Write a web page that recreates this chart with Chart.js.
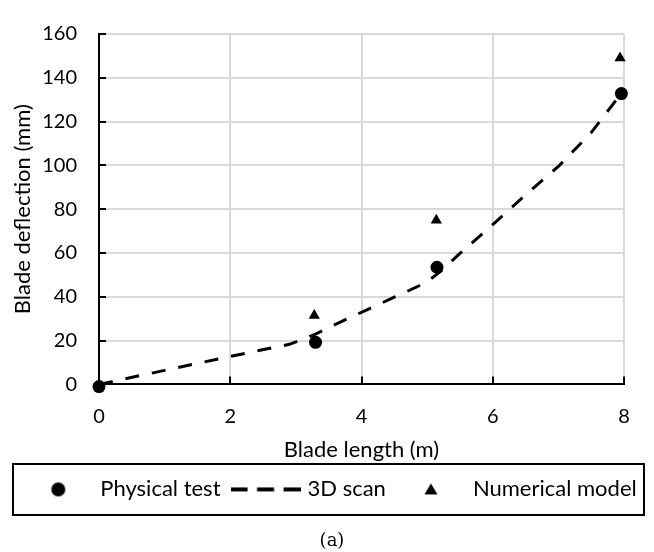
<!DOCTYPE html>
<html>
<head>
<meta charset="utf-8">
<script src="https://cdn.jsdelivr.net/npm/chart.js@4.4.0/dist/chart.umd.min.js"></script>
<style>
  html, body { margin: 0; padding: 0; background: #fff; }
</style>
</head>
<body>
<canvas id="myChart" width="654" height="552"></canvas>
<script>
// valores
const physicalX = [0, 3.3, 5.15, 7.96];
const physicalY = [-1, 19.2, 53.5, 132.8];

const scanX = [0, 1, 2, 2.9, 3.1, 3.3, 3.7, 4.1, 4.5, 4.85, 5.05, 5.2, 5.5, 6, 6.5, 7, 7.5, 7.95];
const scanY = [0, 6.4, 12.8, 18.3, 20.5, 23, 28.8, 34.3, 39.8, 44.6, 48, 51.5, 59.8, 73, 86.5, 99.5, 115, 132.5];

const numericalX = [3.28, 5.14, 7.94];
const numericalY = [31.5, 75, 149];

const xTicks = [0, 2, 4, 6, 8];
const yTicks = [0, 20, 40, 60, 80, 100, 120, 140, 160];

const toPoints = (xs, ys) => xs.map((x, i) => ({ x: x, y: ys[i] }));

// iconos de la leyenda
function legendIcon(kind) {
  const c = document.createElement('canvas');
  c.width = 70; c.height = 16;
  const g = c.getContext('2d');
  g.fillStyle = '#000';
  g.strokeStyle = '#000';
  if (kind === 'circle') {
    g.beginPath(); g.arc(35, 8, 7, 0, Math.PI * 2); g.fill();
  } else if (kind === 'dash') {
    g.lineWidth = 4;
    g.setLineDash([17, 9.5]);
    g.beginPath(); g.moveTo(0, 8); g.lineTo(70, 8); g.stroke();
  } else {
    g.beginPath(); g.moveTo(35, 2); g.lineTo(41.5, 13); g.lineTo(28.5, 13); g.closePath(); g.fill();
  }
  return c;
}
const icons = [legendIcon('circle'), legendIcon('dash'), legendIcon('triangle')];

Chart.defaults.font.family = 'Lato';
Chart.defaults.color = '#000';

// marcas de division hacia dentro + marco de la leyenda
const extras = {
  id: 'extras',
  afterDraw(chart) {
    const { ctx, scales: { x, y } } = chart;
    ctx.save();
    ctx.strokeStyle = '#000';
    ctx.lineWidth = 2;
    ctx.beginPath();
    y.ticks.forEach(t => {
      const py = Math.round(y.getPixelForValue(t.value));
      ctx.moveTo(x.left, py); ctx.lineTo(x.left + 7, py);
    });
    x.ticks.forEach(t => {
      const px = Math.round(x.getPixelForValue(t.value));
      ctx.moveTo(px, y.bottom); ctx.lineTo(px, y.bottom - 8);
    });
    ctx.stroke();

    const hb = chart.legend.legendHitBoxes[0];
    const cy = hb.top + hb.height / 2;
    ctx.strokeRect(13, Math.round(cy - 25.5), 631, 51);
    ctx.restore();
  }
};

const ctx = document.getElementById('myChart').getContext('2d');
const chart = new Chart(ctx, {
  type: 'scatter',
  data: {
    datasets: [{
      label: 'Physical test',
      data: toPoints(physicalX, physicalY),
      pointStyle: 'circle',
      pointRadius: 6.5,
      pointHoverRadius: 6.5,
      backgroundColor: '#000',
      borderColor: '#000',
      borderWidth: 0,
      clip: false
    }, {
      label: '3D scan',
      data: toPoints(scanX, scanY),
      showLine: true,
      pointRadius: 0,
      borderColor: '#000',
      borderWidth: 3,
      borderDash: [14, 13],
      tension: 0,
      clip: false
    }, {
      label: 'Numerical model',
      data: toPoints(numericalX, numericalY),
      pointStyle: 'triangle',
      pointRadius: 6.5,
      pointHoverRadius: 6.5,
      backgroundColor: '#000',
      borderColor: '#000',
      borderWidth: 0,
      clip: false
    }]
  },
  options: {
    responsive: false,
    animation: false,
    layout: { padding: { left: 10, right: 0, top: 21, bottom: 0 } },
    scales: {
      x: {
        type: 'linear',
        min: 0, max: 8,
        afterBuildTicks: s => { s.ticks = xTicks.map(v => ({ value: v })); },
        afterFit: s => { s.height = 80; },
        grid: { color: '#d9d9d9', lineWidth: 2, drawTicks: false },
        border: { color: '#000', width: 2, z: 1 },
        ticks: { padding: 20, font: { size: 20 } },
        title: { display: true, text: 'Blade length (m)', font: { size: 22 }, padding: { top: 0, bottom: 1 } }
      },
      y: {
        type: 'linear',
        min: 0, max: 160,
        afterBuildTicks: s => { s.ticks = yTicks.map(v => ({ value: v })); },
        afterFit: s => { s.width = 89; },
        grid: { color: '#d9d9d9', lineWidth: 2, drawTicks: false },
        border: { color: '#000', width: 2, z: 1 },
        ticks: { padding: 22, font: { size: 20 } },
        title: { display: true, text: 'Blade deflection (mm)', font: { size: 22 }, padding: { top: 0, bottom: 0 } }
      },
      margen: {
        type: 'linear',
        position: 'right',
        afterFit: s => { s.width = 30; },
        grid: { display: false },
        border: { display: false },
        ticks: { display: false }
      }
    },
    plugins: {
      tooltip: { enabled: false },
      legend: {
        position: 'bottom',
        labels: {
          usePointStyle: true,
          pointStyleWidth: 62,
          padding: 14,
          color: '#000',
          font: { size: 22 },
          generateLabels: chart => chart.data.datasets.map((ds, i) => ({
            text: ds.label,
            pointStyle: icons[i],
            fillStyle: '#000',
            strokeStyle: '#000',
            lineWidth: 0,
            hidden: false,
            datasetIndex: i,
            fontColor: '#000'
          }))
        }
      },
      title: {
        display: true,
        text: '(a)',
        position: 'bottom',
        color: '#000',
        font: { family: 'DejaVu Serif', size: 18, weight: 'normal' },
        padding: { top: 20, bottom: 0 }
      }
    }
  },
  plugins: [extras]
});
</script>
</body>
</html>
